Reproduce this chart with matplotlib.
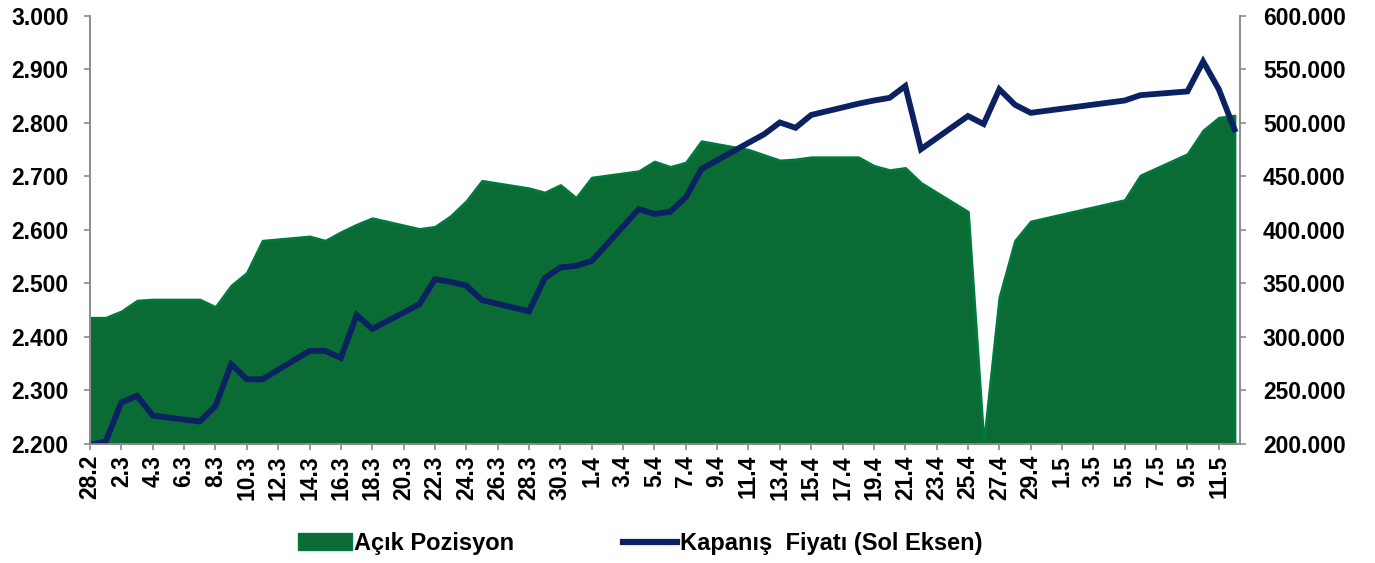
import numpy as np
import pandas as pd
import matplotlib
matplotlib.use('Agg')
import matplotlib.pyplot as plt
from matplotlib.patches import Patch
from matplotlib.lines import Line2D

plt.rcParams['font.family'] = ['Liberation Sans', 'DejaVu Sans']
plt.rcParams['font.weight'] = 'bold'

# trading days (2011), some days have no data
days = ['28.2', '1.3', '2.3', '3.3', '4.3', '7.3', '8.3', '9.3', '10.3', '11.3',
        '14.3', '15.3', '16.3', '17.3', '18.3', '21.3', '22.3', '23.3', '24.3', '25.3',
        '28.3', '29.3', '30.3', '31.3', '1.4', '4.4', '5.4', '6.4', '7.4', '8.4',
        '11.4', '12.4', '13.4', '14.4', '15.4', '18.4', '19.4', '20.4', '21.4', '22.4',
        '25.4', '26.4', '27.4', '28.4', '29.4', '5.5', '6.5', '9.5', '10.5', '11.5', '12.5']

# closing price (left axis)
price = [2.198, 2.205, 2.278, 2.290, 2.253, 2.242, 2.271, 2.349, 2.321, 2.321,
         2.374, 2.374, 2.361, 2.441, 2.415, 2.461, 2.508, 2.503, 2.496, 2.469,
         2.448, 2.510, 2.530, 2.533, 2.542, 2.639, 2.630, 2.634, 2.661, 2.714,
         2.763, 2.779, 2.801, 2.791, 2.815, 2.836, 2.842, 2.847, 2.869, 2.751,
         2.813, 2.798, 2.863, 2.834, 2.819, 2.842, 2.852, 2.859, 2.915, 2.863, 2.788]

# open position, thousands (right axis)
open_pos = [318, 318, 324, 334, 335, 335, 328, 348, 360, 390,
            394, 390, 398, 405, 411, 401, 403, 413, 427, 446,
            439, 435, 442, 430, 449, 455, 464, 459, 463, 483,
            475, 470, 465, 466, 468, 468, 460, 456, 458, 444,
            417, 200, 337, 390, 408, 428, 451, 471, 493, 505, 507]

dates = pd.to_datetime([d + '.2011' for d in days], format='%d.%m.%Y')
start = pd.Timestamp('2011-02-28')
ticks = pd.date_range('2011-02-28', '2011-05-11', freq='2D')

green = '#0A6B35'
navy = '#0B2161'
grey = '#8C8C8C'

fig = plt.figure(figsize=(13.75, 5.63), dpi=100)
ax = fig.add_axes([0.0655, 0.2114, 0.8363, 0.7602])
ax2 = ax.twinx()

ax.fill_between(dates, 0, np.array(open_pos) * 1000, color=green,
                edgecolor='#00793D', linewidth=2)
ax2.plot(dates, price, color=navy, linewidth=4.2, solid_joinstyle='miter')

ax.set_xlim(start, start + pd.Timedelta(days=73.35))
ax.set_ylim(200000, 600000)
ax2.set_ylim(2.2, 3.0)

ax.yaxis.tick_right()
ax.set_yticks(np.arange(200000, 600001, 50000))
ax.set_yticklabels([f'{v / 1000:.3f}' for v in np.arange(200000, 600001, 50000)])
ax2.yaxis.tick_left()
ax2.set_yticks(np.arange(2.2, 3.001, 0.1))
ax2.set_yticklabels([f'{v:.3f}' for v in np.arange(2.2, 3.001, 0.1)])

ax.set_xticks(ticks)
ax.set_xticklabels([f'{d.day}.{d.month}' for d in ticks], rotation=90)

for a in (ax, ax2):
    a.spines['top'].set_visible(False)
    for s in ('left', 'right', 'bottom'):
        a.spines[s].set_color(grey)
        a.spines[s].set_linewidth(1.2)
    a.tick_params(colors=grey, labelcolor='black', labelsize=16.5, length=4.5, width=1.2)
ax.tick_params(axis='y', pad=12)
ax2.tick_params(axis='y', pad=11)
ax.tick_params(axis='x', pad=3.5)

handles = [Patch(facecolor=green, edgecolor='#00793D'),
           Line2D([0], [0], color=navy, linewidth=4.5)]
fig.legend(handles, ['Açık Pozisyon', 'Kapanış  Fiyatı (Sol Eksen)'],
           loc='center', bbox_to_anchor=(0.4655, 0.035), ncol=2, frameon=False,
           fontsize=17, handlelength=2.3, handletextpad=0.1, columnspacing=4.6)

plt.savefig('out.png', dpi=100)
